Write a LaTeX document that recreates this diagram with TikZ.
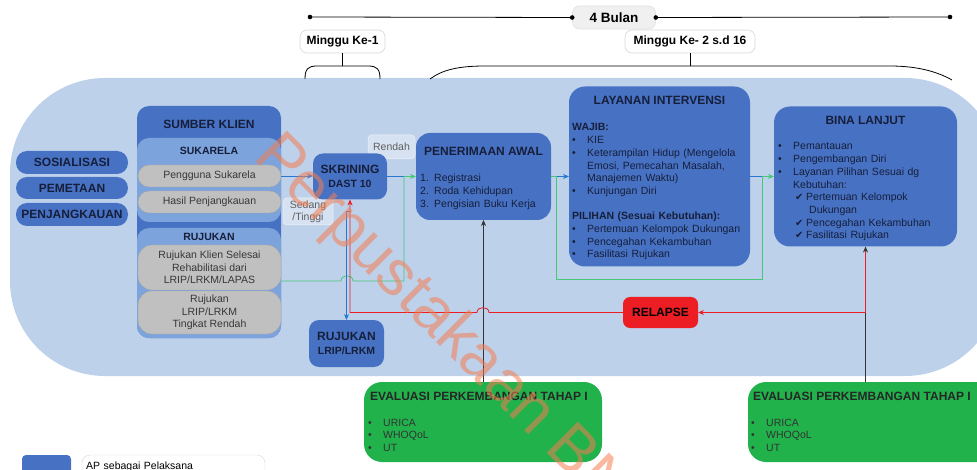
\documentclass[tikz,border=0pt]{standalone}
\usepackage{fontspec}
\setmainfont{Liberation Sans}
\newfontfamily\symbolfont{DejaVu Sans}
\usetikzlibrary{arrows.meta}
\definecolor{bgblue}{RGB}{189,209,235}
\definecolor{boxblue}{RGB}{71,114,196}
\definecolor{innerblue}{RGB}{124,163,219}
\definecolor{pillgray}{RGB}{192,192,192}
\definecolor{navytext}{RGB}{22,30,58}
\definecolor{graytext}{RGB}{55,55,55}
\definecolor{linegray}{RGB}{215,215,215}
\definecolor{linkblue}{RGB}{40,120,210}
\definecolor{linkgreen}{RGB}{70,200,120}
\definecolor{evalgreen}{RGB}{33,178,76}
\definecolor{relapsered}{RGB}{236,30,36}
\definecolor{labelfill}{RGB}{214,226,242}
\definecolor{watermark}{RGB}{244,125,80}
\newcommand{\bul}{\makebox[15pt][l]{\textbullet}}
\newcommand{\checkitem}{\makebox[11pt][l]{{\symbolfont\fontsize{10}{12}\selectfont ✔}}}
\tikzset{
  bluebox/.style={fill=boxblue, rounded corners=10pt, inner sep=0pt, outer sep=0pt},
  innerbox/.style={fill=innerblue, rounded corners=12pt, inner sep=0pt, outer sep=0pt},
  graypill/.style={fill=pillgray, draw=pillgray!85!black, line width=0.3pt, rounded corners=11pt,
    inner sep=0pt, outer sep=0pt, minimum width=143pt, font=\fontsize{10.5}{12.7}\selectfont,
    text=graytext, align=center},
  sidepill/.style={fill=boxblue, rounded corners=11pt, minimum width=112pt, minimum height=23pt,
    inner sep=0pt, font=\fontsize{12}{14}\selectfont\bfseries, text=navytext},
  boxtitle/.style={font=\fontsize{12}{14}\selectfont\bfseries, text=navytext, inner sep=0pt},
  subtitle/.style={font=\fontsize{10.5}{13}\selectfont\bfseries, text=navytext, inner sep=0pt},
  boxlist/.style={font=\fontsize{10.5}{12.7}\selectfont, text=navytext, inner sep=0pt,
    align=left, anchor=base west, text width=185pt},
  weekbox/.style={fill=white, draw=linegray, line width=0.6pt, rounded corners=7pt,
    minimum height=23pt, inner sep=0pt, font=\fontsize{12}{14}\selectfont\bfseries},
  levelbox/.style={fill=labelfill, draw=white!90!gray, line width=0.5pt, rounded corners=4pt,
    inner sep=0pt, font=\fontsize{10.5}{12}\selectfont, text=graytext!80!white, align=center},
  evalbox/.style={fill=evalgreen, rounded corners=18pt, inner sep=0pt, outer sep=0pt},
  timeline/.style={line width=0.8pt, black},
  bluelink/.style={draw=linkblue, line width=0.8pt},
  greenlink/.style={draw=linkgreen, line width=0.8pt},
  redlink/.style={draw=relapsered, line width=0.8pt},
  tip/.style={-{Stealth[length=6pt,width=5pt]}}
}

\begin{document}
\begin{tikzpicture}[x=1pt, y=-1pt]
  \useasboundingbox (0,0) rectangle (977,470);

  % time line on top
  \coordinate (tlstart) at (310,17);
  \coordinate (tlend) at (950,17);
  \node[weekbox, fill=black!6, draw=black!12, minimum width=83pt, font=\fontsize{13.5}{15}\selectfont\bfseries]
    (bulan) at (614,17.5) {4 Bulan};
  \draw[timeline] (tlstart) -- (bulan.west);
  \draw[timeline] (bulan.east) -- (tlend);
  \foreach \p in {tlstart, tlend, bulan.west, bulan.east}
    \fill (\p) circle (2.3pt);

  \node[weekbox, minimum width=85pt] (minggu1) at (342.5,41.5) {Minggu Ke-1};
  \node[weekbox, minimum width=130pt] (minggu2) at (690,41.5) {Minggu Ke- 2 s.d 16};

  % background
  \fill[bgblue, rounded corners=95pt] (10,78) rectangle (1000,376);

  \draw[timeline] (minggu1.south) -- (342.5,66);
  \draw[timeline] (305,79) .. controls (305,69) and (308,66) .. (317,66) -- (368,66)
    .. controls (377,66) and (380,69) .. (380,79);
  \draw[timeline] (minggu2.south) -- (690,66);
  \draw[timeline] (430,79) .. controls (442,70) and (458,66) .. (485,66) -- (890,66)
    .. controls (918,66) and (938,72) .. (952,80);

  % left column
  \node[sidepill] (sosialisasi) at (72,162.5) {SOSIALISASI};
  \node[sidepill, minimum height=22pt] (pemetaan) at (72,188) {PEMETAAN};
  \node[sidepill] (penjangkauan) at (72,214.5) {PENJANGKAUAN};

  % sumber klien
  \node[bluebox, rounded corners=12pt, minimum width=144pt, minimum height=232pt] (sumber) at (209,222) {};
  \node[boxtitle] (sumbertitle) at (209,124) {SUMBER KLIEN};
  \node[innerbox, minimum width=144pt, minimum height=84pt] (sukarela) at (209,180) {};
  \node[subtitle] (sukarelatitle) at (209,151) {SUKARELA};
  \node[innerbox, minimum width=144pt, minimum height=110pt] (rujukan) at (209,283) {};
  \node[subtitle] (rujukantitle) at (209,237) {RUJUKAN};
  \node[graypill, minimum height=22pt] (pengguna) at (209.5,176) {Pengguna Sukarela};
  \node[graypill, minimum height=22pt] (hasil) at (209.5,202) {Hasil Penjangkauan};
  \node[graypill, minimum height=45pt, rounded corners=14pt] (klien) at (209.5,267.5)
    {Rujukan Klien Selesai\\Rehabilitasi dari\\LRIP/LRKM/LAPAS};
  \node[graypill, minimum height=43pt, rounded corners=14pt] (tingkat) at (209.5,312.5)
    {Rujukan\\LRIP/LRKM\\Tingkat Rendah};

  % skrining
  \node[levelbox, minimum width=47pt, minimum height=24pt] (rendah) at (391.5,147) {Rendah};
  \node[levelbox, minimum width=50pt, minimum height=27pt] (sedang) at (308,211.5) {Sedang\\/Tinggi};
  \node[bluebox, minimum width=74pt, minimum height=46pt, align=center, text=navytext,
    font=\fontsize{12}{14}\selectfont\bfseries] (skrining) at (350,176.5)
    {SKRINING\\{\fontsize{10.5}{12}\selectfont DAST 10}};
  \node[bluebox, minimum width=75pt, minimum height=47pt, align=center, text=navytext,
    font=\fontsize{12}{14}\selectfont\bfseries] (rujlrip) at (346.5,343.5)
    {RUJUKAN\\{\fontsize{10.5}{12}\selectfont LRIP/LRKM}};

  % penerimaan awal
  \node[bluebox, rounded corners=14pt, minimum width=135pt, minimum height=87pt] (penerimaan) at (483.5,176.5) {};
  \node[boxtitle] (penerimaantitle) at (483.5,151) {PENERIMAAN AWAL};
  \node[boxlist] (penerimaanlist) at (420,182)
    {1. Registrasi\\2. Roda Kehidupan\\3. Pengisian Buku Kerja};

  % layanan intervensi
  \node[bluebox, rounded corners=16pt, minimum width=181pt, minimum height=180pt] (layanan) at (659.5,176.5) {};
  \node[boxtitle] (layanantitle) at (659.5,100) {LAYANAN INTERVENSI};
  \node[boxlist] (layananlist) at (572,131)
    {\textbf{WAJIB:}\\
     \bul KIE\\
     \bul Keterampilan Hidup (Mengelola\\
     \hspace*{15pt}Emosi, Pemecahan Masalah,\\
     \hspace*{15pt}Manajemen Waktu)\\
     \bul Kunjungan Diri\\[12.7pt]
     \textbf{PILIHAN (Sesuai Kebutuhan):}\\
     \bul Pertemuan Kelompok Dukungan\\
     \bul Pencegahan Kekambuhan\\
     \bul Fasilitasi Rujukan};

  % bina lanjut
  \node[bluebox, rounded corners=16pt, minimum width=183pt, minimum height=140pt] (bina) at (865.5,176.5) {};
  \node[boxtitle] (binatitle) at (865.5,120) {BINA LANJUT};
  \node[boxlist] (binalist) at (778,150)
    {\bul Pemantauan\\
     \bul Pengembangan Diri\\
     \bul Layanan Pilihan Sesuai dg\\
     \hspace*{15pt}Kebutuhan:\\
     \hspace*{17pt}\checkitem Pertemuan Kelompok\\
     \hspace*{31pt}Dukungan\\
     \hspace*{17pt}\checkitem Pencegahan Kekambuhan\\
     \hspace*{17pt}\checkitem Fasilitasi Rujukan};

  % relapse
  \node[bluebox, fill=relapsered, rounded corners=7pt, minimum width=75pt, minimum height=31pt,
    font=\fontsize{12}{14}\selectfont\bfseries, text=black] (relapse) at (660.5,312.5) {RELAPSE};

  % evaluasi
  \node[evalbox, minimum width=238pt, minimum height=80pt] (eval1) at (483,422) {};
  \node[boxtitle, anchor=base west, text=black!85] (eval1title) at (370,400) {EVALUASI PERKEMBANGAN TAHAP I};
  \node[boxlist, text=black!80] (eval1list) at (368,426) {\bul URICA\\\bul WHOQoL\\\bul UT};
  \node[evalbox, minimum width=252pt, minimum height=80pt] (eval2) at (874,422) {};
  \node[boxtitle, anchor=base west, text=black!85] (eval2title) at (753,400) {EVALUASI PERKEMBANGAN TAHAP I};
  \node[boxlist, text=black!80] (eval2list) at (751,426) {\bul URICA\\\bul WHOQoL\\\bul UT};

  % legend
  \node[fill=boxblue, rounded corners=4pt, minimum width=49pt, minimum height=25pt, inner sep=0pt] (legendkey) at (46.5,467.5) {};
  \node[fill=white, draw=linegray, rounded corners=8pt, minimum width=183pt, minimum height=25pt, inner sep=0pt] (legendbox) at (173.5,467.5) {};
  \node[boxlist, text=black] (legendtext) at (86,469) {AP sebagai Pelaksana};

  % connectors
  \draw[bluelink, tip] (pengguna.east) -- (pengguna.east -| skrining.west);
  \draw[bluelink] (skrining.east) -- (404,176.5);
  \draw[greenlink, tip] ([yshift=-13.5pt]klien.east) -- (341,281) .. controls (341,274) and (353,274) .. (353,281)
    -- (404,281) |- (penerimaan.west);
  \draw[bluelink, tip] ([yshift=-12pt]skrining.south) -| (rujlrip.north);
  \draw[bluelink, tip] (penerimaan.east) -- (layanan.west);
  \draw[bluelink] (layanan.east) -- (762,176.5);
  \draw[greenlink, tip] (penerimaan.east) -- (556,176.5) -- (556,279) -- (762,279) |- (bina.west);
  \draw[black!80, line width=0.8pt, tip] (eval1.north -| penerimaan.south) -- (penerimaan.south);
  \draw[black!80, line width=0.8pt, tip] (eval2.north -| bina.south) -- (bina.south);
  \draw[redlink, tip] ([yshift=-5pt]bina.south) |- (relapse.east);
  \draw[redlink, tip] (relapse.west) -- (489,312.5) .. controls (489,306) and (477,306) .. (477,312.5)
    -| (skrining.south);

  % watermark
  \node[text=watermark, opacity=0.55, rotate=-45, anchor=base west, inner sep=0pt,
    font=\fontsize{64}{66}\selectfont] (watermarktext) at (252,158) {Perpustakaan BNN};
\end{tikzpicture}
\end{document}
